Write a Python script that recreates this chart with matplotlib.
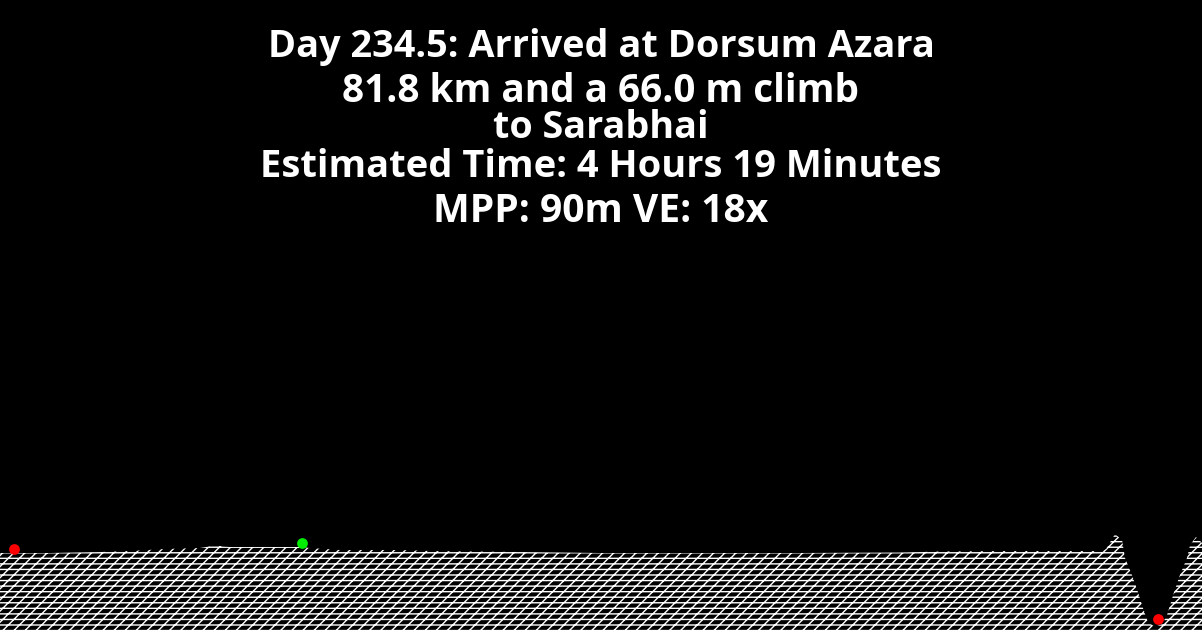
import matplotlib
matplotlib.use("Agg")
import matplotlib.pyplot as plt
import numpy as np

# Route profile: distance (km) and elevation (m, relative)
distance_km = [0, 3.40, 6.81, 8.85, 11.23, 13.61, 14.63, 15.65, 17.69, 20.42, 21.10,
               23.14, 27.22, 29.26, 35.39, 40.83, 47.64, 54.44, 61.25, 63.97, 68.05,
               74.86, 75.27, 75.88, 76.36, 76.56, 77.03, 77.44, 77.78, 78.12, 78.60,
               79.08, 79.42, 79.90, 80.30, 80.78, 80.99, 81.39, 81.80]
elevation_m = [385, 385, 390, 395, 405, 410, 422.5, 415, 415, 415, 410,
               400, 400, 395, 390, 385, 385, 385, 387.5, 392.5, 395,
               395, 405, 480, 450, 360, 275, 190, 110, 40, 15,
               30, 75, 190, 275, 360, 425, 465, 435]

# Markers
red_km = [0.95, 78.81]
red_elev = [405, 55]
green_km = [20.55]
green_elev = [435]

title_lines = ["Day 234.5: Arrived at Dorsum Azara",
               "81.8 km and a 66.0 m climb",
               "to Sarabhai",
               "Estimated Time: 4 Hours 19 Minutes",
               "MPP: 90m VE: 18x"]

plt.rcParams['hatch.linewidth'] = 1.0
plt.rcParams['hatch.color'] = 'white'

W, H = 1202, 630
fig = plt.figure(figsize=(W / 100, H / 100), dpi=100, facecolor='black')
ax = fig.add_axes([0, 0, 1, 1])
ax.set_facecolor('black')
ax.fill_between(distance_km, elevation_m, 0, facecolor='black', edgecolor='white',
                hatch='///---', linewidth=0)
ax.scatter(red_km, red_elev, s=60, color='#ff0000', zorder=3, linewidths=0)
ax.scatter(green_km, green_elev, s=60, color='#00ee00', zorder=3, linewidths=0)
ax.set_xlim(0, 81.8)
ax.set_ylim(0, 3150)
ax.axis('off')

baselines = [57, 102, 138, 177, 222]
target_widths = [666, 518, 215, 682, 336]
renderer = fig.canvas.get_renderer()
for line, yb, tw in zip(title_lines, baselines, target_widths):
    t = fig.text(0.5, 1 - yb / H, line, ha='center', va='baseline', color='white',
                 fontsize=26, fontweight='bold', family='Open Sans')
    w = t.get_window_extent(renderer).width
    t.set_fontsize(26 * tw / w)

fig.savefig('out.png', dpi=100, facecolor='black')
